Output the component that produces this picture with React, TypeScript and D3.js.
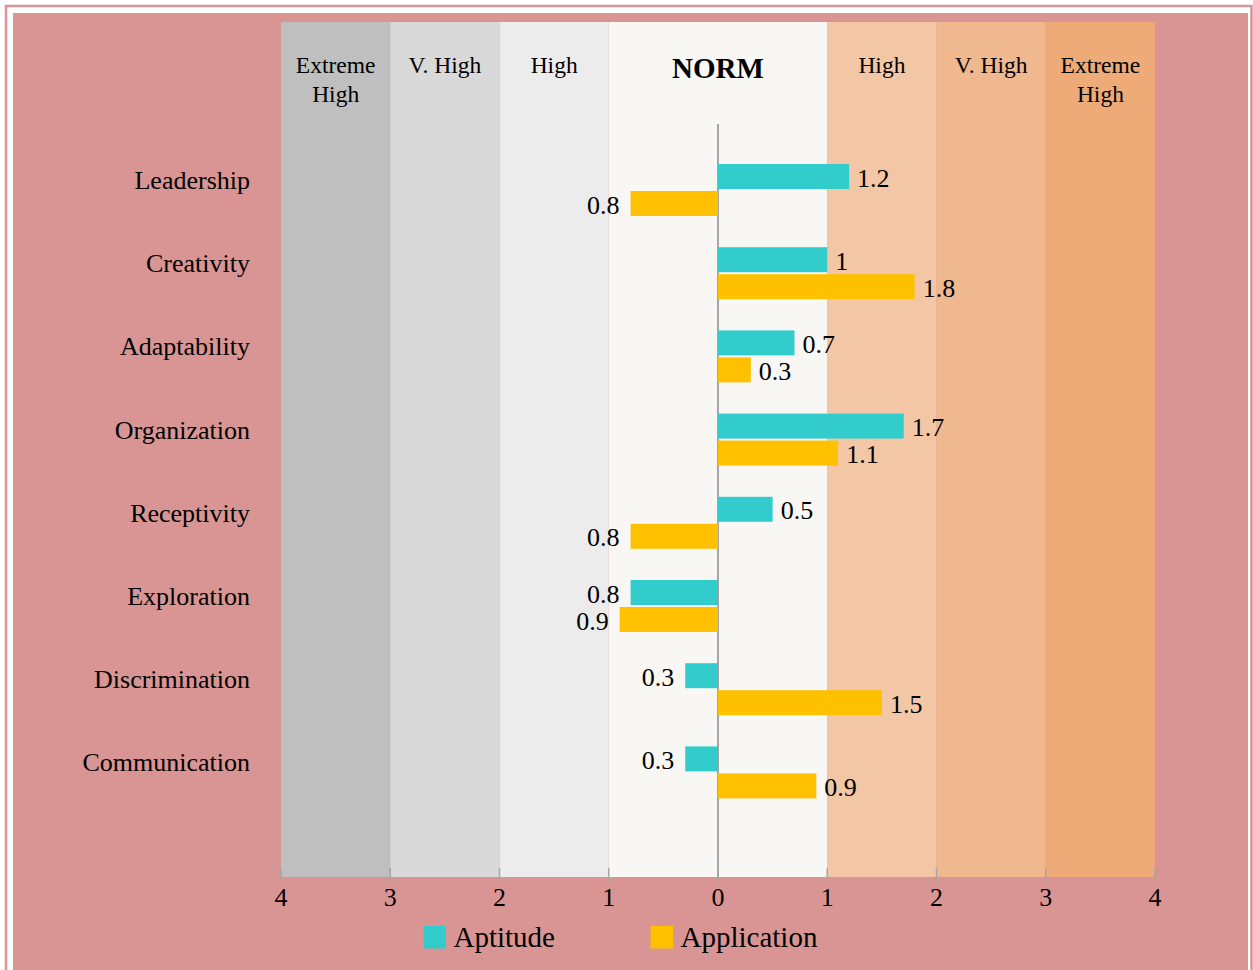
import React from "react";
import * as d3 from "d3";

const categories = [
  "Leadership",
  "Creativity",
  "Adaptability",
  "Organization",
  "Receptivity",
  "Exploration",
  "Discrimination",
  "Communication",
];
const aptitude = [1.2, 1, 0.7, 1.7, 0.5, -0.8, -0.3, -0.3];
const application = [-0.8, 1.8, 0.3, 1.1, -0.8, -0.9, 1.5, 0.9];
const seriesNames = ["Aptitude", "Application"];
const seriesColors = ["#33CCCC", "#FFC000"];
const tickValues = [-4, -3, -2, -1, 0, 1, 2, 3, 4];

// background zones: [from, to, label lines, fill, bold]
const zones: { from: number; to: number; lines: string[]; fill: string; bold?: boolean }[] = [
  { from: -4, to: -3, lines: ["Extreme", "High"], fill: "#BFBFBF" },
  { from: -3, to: -2, lines: ["V. High"], fill: "#D9D9D9" },
  { from: -2, to: -1, lines: ["High"], fill: "#ECECEC" },
  { from: -1, to: 1, lines: ["NORM"], fill: "#F8F7F3", bold: true },
  { from: 1, to: 2, lines: ["High"], fill: "#F3C7A5" },
  { from: 2, to: 3, lines: ["V. High"], fill: "#F0B88E" },
  { from: 3, to: 4, lines: ["Extreme", "High"], fill: "#EEAB77" },
];

const FONT = "'Liberation Serif', 'Times New Roman', serif";

export default function App() {
  const W = 1253;
  const H = 970;
  const plotTop = 22;
  const plotBottom = 877;

  const x = d3.scaleLinear().domain([-4, 4]).range([281, 1155]);
  const y = d3.scaleBand<string>().domain(categories).range([148.4, 814]).paddingInner(0);
  const barH = 25;

  const fmt = (v: number) => String(Math.abs(v));

  const series = [aptitude, application];

  return (
    <svg
      width={W}
      height={H}
      style={{ position: "absolute", left: 0, top: 0, background: "#fff" }}
      fontFamily={FONT}
    >
      {/* page frame */}
      <rect x={6} y={6} width={1245.5} height={1000} fill="none" stroke="#D99594" strokeWidth={2.5} />
      <rect x={13} y={13} width={1235} height={980} fill="#D99594" />

      {/* zones */}
      {zones.map((z, i) => (
        <g key={i}>
          <rect
            x={x(z.from)}
            y={plotTop}
            width={x(z.to) - x(z.from)}
            height={plotBottom - plotTop}
            fill={z.fill}
          />
          {z.lines.map((l, j) => (
            <text
              key={j}
              x={(x(z.from) + x(z.to)) / 2}
              y={z.bold ? 78 : 73 + j * 29}
              textAnchor="middle"
              fontSize={z.bold ? 29 : 23.5}
              fontWeight={z.bold ? "bold" : "normal"}
              fill="#000"
            >
              {l}
            </text>
          ))}
        </g>
      ))}

      {/* zero line */}
      <line x1={x(0)} x2={x(0)} y1={124} y2={882} stroke="#A6A6A6" strokeWidth={2} />

      {/* ticks */}
      {tickValues.map((t) => (
        <g key={t}>
          <line x1={x(t)} x2={x(t)} y1={868} y2={882} stroke="#A6A6A6" strokeWidth={1.5} />
          <text x={x(t)} y={906} textAnchor="middle" fontSize={26} fill="#000">
            {Math.abs(t)}
          </text>
        </g>
      ))}

      {/* bars */}
      {categories.map((c, i) => {
        const center = (y(c) as number) + y.bandwidth() / 2;
        return (
          <g key={c}>
            <text x={250} y={center - 1} textAnchor="end" fontSize={26} fill="#000">
              {c}
            </text>
            {series.map((s, k) => {
              const v = s[i];
              const top = k === 0 ? center - 26 : center + 1;
              const x0 = x(Math.min(0, v));
              const x1 = x(Math.max(0, v));
              return (
                <g key={k}>
                  <rect x={x0} y={top} width={x1 - x0} height={barH} fill={seriesColors[k]} />
                  <text
                    x={v >= 0 ? x1 + 8 : x0 - 11}
                    y={top + barH / 2 + 10}
                    textAnchor={v >= 0 ? "start" : "end"}
                    fontSize={26}
                    fill="#000"
                  >
                    {fmt(v)}
                  </text>
                </g>
              );
            })}
          </g>
        );
      })}

      {/* legend */}
      {seriesNames.map((n, k) => {
        const lx = k === 0 ? 423.5 : 650.5;
        return (
          <g key={n}>
            <rect x={lx} y={926} width={22.5} height={22.5} fill={seriesColors[k]} />
            <text x={lx + 30} y={946.5} fontSize={29} fill="#000">
              {n}
            </text>
          </g>
        );
      })}
    </svg>
  );
}
